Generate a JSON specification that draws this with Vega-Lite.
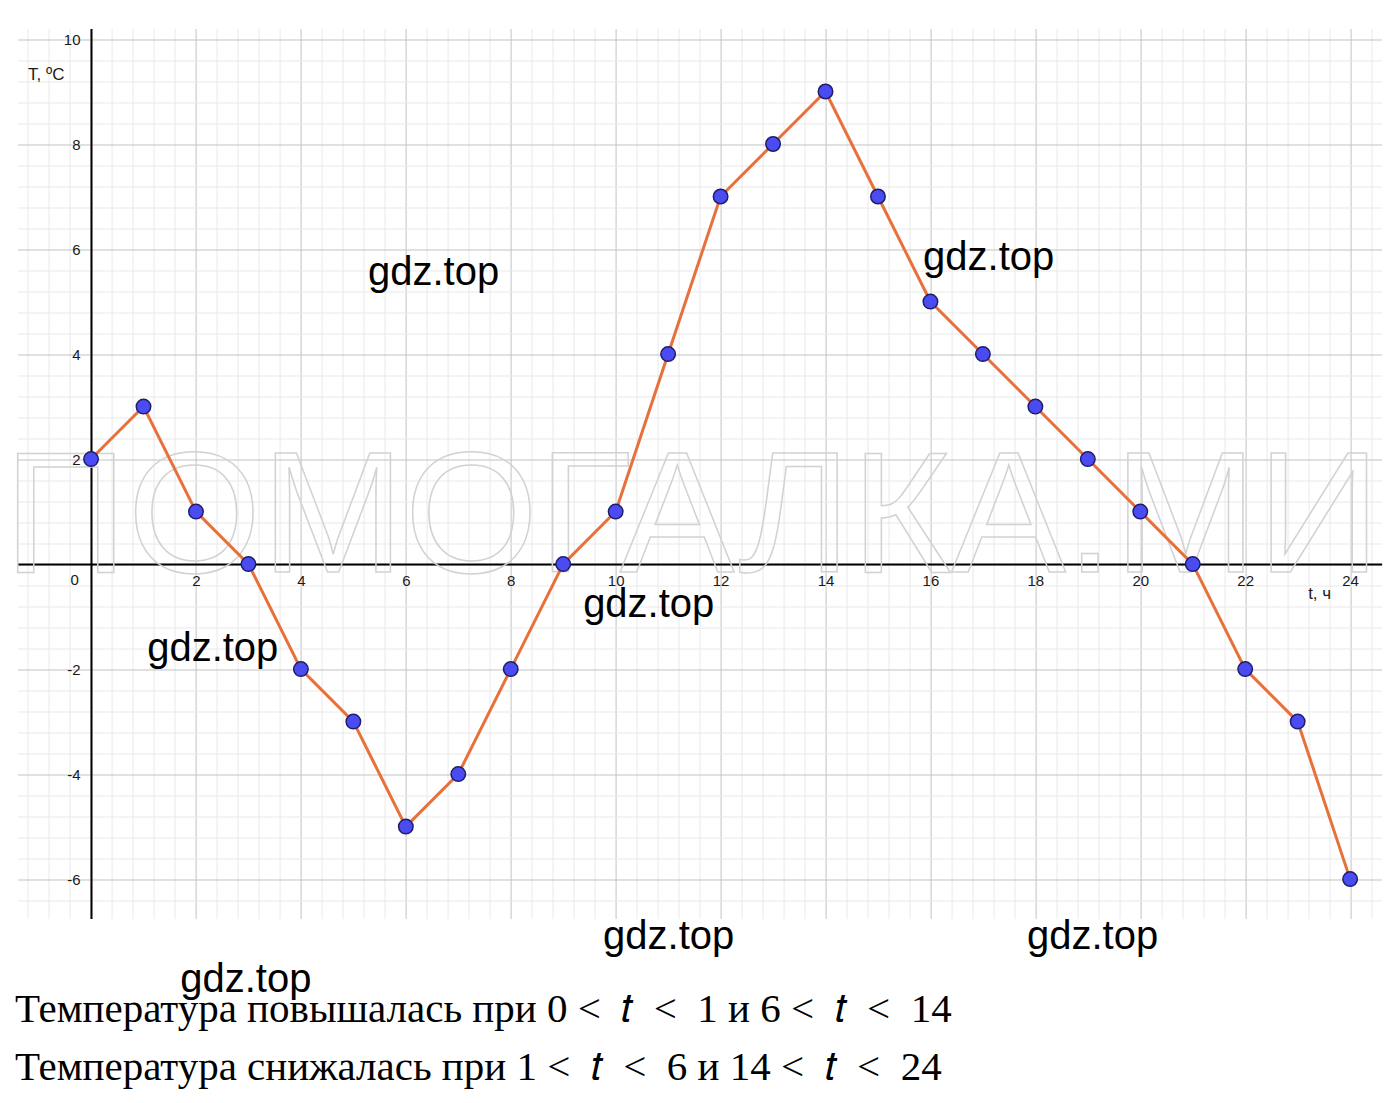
{
  "$schema": "https://vega.github.io/schema/vega-lite/v6.json",
  "width": 1364,
  "height": 890,
  "autosize": "none",
  "padding": {"left": 17.6, "top": 28.5, "right": 18.4, "bottom": 184.6},
  "background": "white",
  "config": {"view": {"stroke": null}},
  "datasets": {
    "temps": [
      {"x": 0, "y": 2}, {"x": 1, "y": 3}, {"x": 2, "y": 1}, {"x": 3, "y": 0},
      {"x": 4, "y": -2}, {"x": 5, "y": -3}, {"x": 6, "y": -5}, {"x": 7, "y": -4},
      {"x": 8, "y": -2}, {"x": 9, "y": 0}, {"x": 10, "y": 1}, {"x": 11, "y": 4},
      {"x": 12, "y": 7}, {"x": 13, "y": 8}, {"x": 14, "y": 9}, {"x": 15, "y": 7},
      {"x": 16, "y": 5}, {"x": 17, "y": 4}, {"x": 18, "y": 3}, {"x": 19, "y": 2},
      {"x": 20, "y": 1}, {"x": 21, "y": 0}, {"x": 22, "y": -2}, {"x": 23, "y": -3},
      {"x": 24, "y": -6}
    ],
    "watermark": [{"x": 11.46, "y": -0.15, "label": "ПОМОГАЛКА.МИ"}],
    "origin": [{"x": -0.31, "y": -0.3, "label": "0"}],
    "axislabels": [
      {"x": -1.2, "y": 9.31, "label": "T, ºC"},
      {"x": 23.2, "y": -0.57, "label": "t, ч"}
    ],
    "gdz": [
      {"x": 5.28, "y": 5.31, "label": "gdz.top"},
      {"x": 15.86, "y": 5.6, "label": "gdz.top"},
      {"x": 9.38, "y": -1.01, "label": "gdz.top"},
      {"x": 1.07, "y": -1.85, "label": "gdz.top"},
      {"x": 9.76, "y": -7.33, "label": "gdz.top"},
      {"x": 17.84, "y": -7.33, "label": "gdz.top"},
      {"x": 1.7, "y": -8.15, "label": "gdz.top"}
    ],
    "answer": [
      {"x": -1.45, "y": -8.72, "label": "Температура повышалась при 0 <\u2002𝑡\u2002<\u20021 и 6 <\u2002𝑡\u2002<\u200214"},
      {"x": -1.45, "y": -9.83, "label": "Температура снижалась при 1 <\u2002𝑡\u2002<\u20026 и 14 <\u2002𝑡\u2002<\u200224"}
    ]
  },
  "encoding": {
    "x": {
      "field": "x",
      "type": "quantitative",
      "scale": {"domain": [-1.4, 24.6], "nice": false, "zero": false},
      "axis": {
        "orient": "bottom",
        "offset": -354.4,
        "title": null,
        "values": [-1.2,-0.8,-0.4,0,0.4,0.8,1.2,1.6,2,2.4,2.8,3.2,3.6,4,4.4,4.8,5.2,5.6,6,6.4,6.8,7.2,7.6,8,8.4,8.8,9.2,9.6,10,10.4,10.8,11.2,11.6,12,12.4,12.8,13.2,13.6,14,14.4,14.8,15.2,15.6,16,16.4,16.8,17.2,17.6,18,18.4,18.8,19.2,19.6,20,20.4,20.8,21.2,21.6,22,22.4,22.8,23.2,23.6,24,24.4],
        "grid": true,
        "gridColor": {"condition": {"test": "datum.value % 2 === 0", "value": "#c2c2c2"}, "value": "#e9e9e9"},
        "gridWidth": 1,
        "domain": true,
        "domainColor": "#000000",
        "domainWidth": 2,
        "ticks": false,
        "tickSize": 0,
        "labelPadding": 9,
        "labelBaseline": "top",
        "labelFont": "Liberation Sans",
        "labelFontSize": 15,
        "labelColor": "#1a1a1a",
        "labelOverlap": false,
        "labelFlush": false,
        "labelBound": false,
        "labelExpr": "datum.value % 2 === 0 && datum.value !== 0 ? '' + datum.value : ''"
      }
    },
    "y": {
      "field": "y",
      "type": "quantitative",
      "scale": {"domain": [-6.75, 10.2], "nice": false, "zero": false},
      "axis": {
        "orient": "left",
        "offset": -73.4,
        "title": null,
        "values": [-6.4,-6,-5.6,-5.2,-4.8,-4.4,-4,-3.6,-3.2,-2.8,-2.4,-2,-1.6,-1.2,-0.8,-0.4,0,0.4,0.8,1.2,1.6,2,2.4,2.8,3.2,3.6,4,4.4,4.8,5.2,5.6,6,6.4,6.8,7.2,7.6,8,8.4,8.8,9.2,9.6,10],
        "grid": true,
        "gridColor": {"condition": {"test": "datum.value % 2 === 0", "value": "#c2c2c2"}, "value": "#e9e9e9"},
        "gridWidth": 1,
        "domain": true,
        "domainColor": "#000000",
        "domainWidth": 2,
        "ticks": false,
        "tickSize": 0,
        "labelPadding": 11,
        "labelAlign": "right",
        "labelBaseline": "middle",
        "labelFont": "Liberation Sans",
        "labelFontSize": 15,
        "labelColor": "#1a1a1a",
        "labelOverlap": false,
        "labelFlush": false,
        "labelBound": false,
        "labelExpr": "datum.value % 2 === 0 && datum.value !== 0 ? '' + datum.value : ''"
      }
    }
  },
  "layer": [
    {
      "data": {"name": "watermark"},
      "mark": {"type": "text", "font": "Liberation Sans", "fontSize": 172, "align": "center", "baseline": "alphabetic", "fill": "#ffffff", "fillOpacity": 0, "stroke": "#d2d2d2", "strokeWidth": 1.5},
      "encoding": {"text": {"field": "label"}}
    },
    {
      "data": {"name": "temps"},
      "mark": {"type": "line", "color": "#e8703a", "strokeWidth": 3}
    },
    {
      "data": {"name": "temps"},
      "mark": {"type": "point", "filled": true, "size": 210, "fill": "#4a4cf2", "fillOpacity": 1, "stroke": "#1e1e6a", "strokeWidth": 1.5, "opacity": 1}
    },
    {
      "data": {"name": "origin"},
      "mark": {"type": "text", "font": "Liberation Sans", "fontSize": 15, "align": "center", "baseline": "middle", "color": "#1a1a1a"},
      "encoding": {"text": {"field": "label"}}
    },
    {
      "data": {"name": "axislabels"},
      "mark": {"type": "text", "font": "Liberation Sans", "fontSize": 17, "align": "left", "baseline": "middle", "color": "#1a1a1a"},
      "encoding": {"text": {"field": "label"}}
    },
    {
      "data": {"name": "gdz"},
      "mark": {"type": "text", "font": "Liberation Sans", "fontSize": 40, "align": "left", "baseline": "alphabetic", "color": "#000000"},
      "encoding": {"text": {"field": "label"}}
    },
    {
      "data": {"name": "answer"},
      "mark": {"type": "text", "font": "Liberation Serif", "fontSize": 41, "align": "left", "baseline": "alphabetic", "color": "#000000"},
      "encoding": {"text": {"field": "label"}}
    }
  ]
}
